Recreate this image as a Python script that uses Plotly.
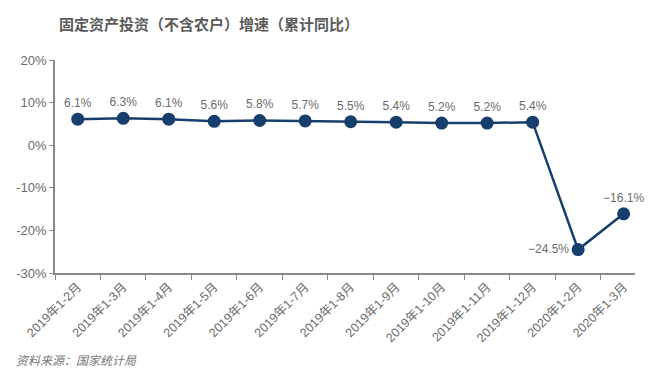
import plotly.graph_objects as go

categories = ["2019年1-2月", "2019年1-3月", "2019年1-4月", "2019年1-5月", "2019年1-6月",
              "2019年1-7月", "2019年1-8月", "2019年1-9月", "2019年1-10月", "2019年1-11月",
              "2019年1-12月", "2020年1-2月", "2020年1-3月"]
values = [6.1, 6.3, 6.1, 5.6, 5.8, 5.7, 5.5, 5.4, 5.2, 5.2, 5.4, -24.5, -16.1]
labels = ["6.1%", "6.3%", "6.1%", "5.6%", "5.8%", "5.7%", "5.5%", "5.4%", "5.2%", "5.2%",
          "5.4%", "−24.5%", "−16.1%"]
y_ticks = [20, 10, 0, -10, -20, -30]
y_tick_labels = ["20%", "10%", "0%", "-10%", "-20%", "-30%"]

positions = ["top center"] * len(values)
positions[11] = "middle left"

FONT = "Liberation Sans, Arial, Noto Sans CJK SC, sans-serif"
GRAY = "#6b6b6b"
NAVY = "#173f6e"

fig = go.Figure()
fig.add_trace(go.Scatter(
    x=categories, y=values, mode="lines+markers+text",
    text=labels, textposition=positions,
    textfont=dict(family=FONT, size=12, color=GRAY),
    line=dict(color=NAVY, width=2.5),
    marker=dict(color=NAVY, size=13),
    cliponaxis=False, hoverinfo="skip",
))

fig.update_layout(
    width=660, height=386,
    margin=dict(l=47, r=33, t=52, b=121),
    paper_bgcolor="white", plot_bgcolor="white",
    showlegend=False,
    font=dict(family=FONT, color=GRAY),
    annotations=[
        dict(text="<b>固定资产投资（不含农户）增速（累计同比）</b>", xref="paper", yref="paper",
             x=0, y=1.0, xshift=2, yshift=37, xanchor="left", yanchor="middle", showarrow=False,
             font=dict(family="Noto Sans CJK SC", size=15, color="#5a5a5a")),
        dict(text="<i>资料来源：国家统计局</i>", xref="paper", yref="paper",
             x=0, y=0, xshift=-41, yshift=-86, xanchor="left", yanchor="middle",
             showarrow=False,
             font=dict(family="Noto Sans CJK SC", size=12, color="#777777")),
    ],
)

fig.update_xaxes(
    type="category", range=[-0.5, 12.25], automargin=False,
    tickangle=-45, tickfont=dict(family=FONT, size=12.5, color=GRAY),
    showline=True, linecolor="#8a8a8a", linewidth=1.5,
    ticks="outside", tickson="boundaries", ticklen=5, tickcolor="#8a8a8a",
    showgrid=False, zeroline=False,
)
fig.update_yaxes(
    range=[-30, 20], tickvals=y_ticks, ticktext=y_tick_labels, automargin=False,
    tickfont=dict(family=FONT, size=13, color=GRAY),
    showline=True, linecolor="#8a8a8a", linewidth=1.5,
    ticks="outside", ticklen=4, tickcolor="#8a8a8a",
    showgrid=False, zeroline=False,
)

fig.write_html("out.html")
